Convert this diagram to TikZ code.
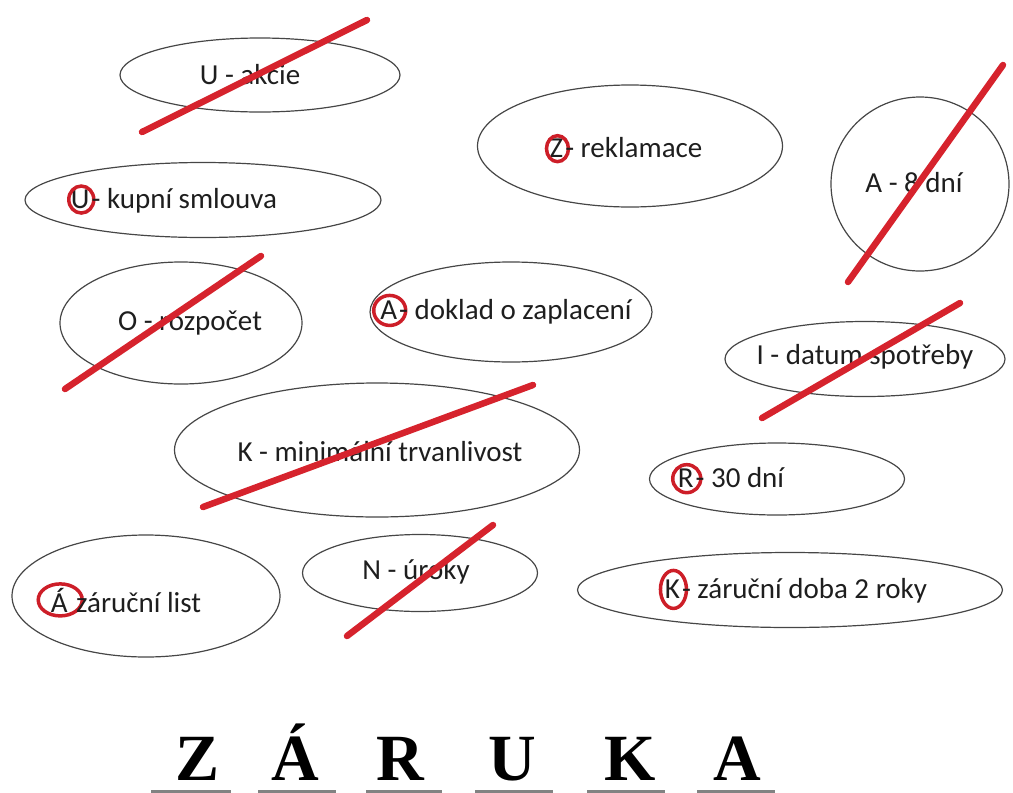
\documentclass[tikz,border=0pt]{standalone}
\usepackage{fontspec}
\setmainfont{Carlito}
\newfontfamily\tnr{Liberation Serif}
\usetikzlibrary{shapes.geometric}

\definecolor{barred}{RGB}{214,35,45}
\definecolor{ringred}{RGB}{205,30,40}
\definecolor{ovalline}{RGB}{70,70,70}
\definecolor{ink}{RGB}{30,30,30}
\definecolor{blankline}{RGB}{130,130,130}

% letter with a hand-drawn red ring around it (ring does not take up width)
\newcommand\ringed[3]{\tikz[baseline=(r.base)]{%
  \node[inner sep=0pt,outer sep=0pt,draw=none,shape=rectangle,text=ink](r){#3};
  \draw[overlay,ringred,line width=3.5pt] ([xshift=1pt]r.center) ellipse [x radius=#1pt, y radius=#2pt];}\kern2pt\relax}

\tikzset{
  oval/.style={ellipse, draw=ovalline, line width=1.2pt, inner sep=0pt},
  lbl/.style={text=ink, font=\fontsize{29}{33}\selectfont, inner sep=0pt},
  redbar/.style={barred, line width=6.5pt, line cap=round},
  bigletter/.style={text=black, font=\tnr\bfseries\fontsize{66}{70}\selectfont, inner sep=0pt, anchor=base},
  blank/.style={blankline, line width=4pt}
}

\begin{document}
\begin{tikzpicture}[x=1pt,y=-1pt]
\useasboundingbox (0,0) rectangle (1013,793);

% ovals
\node[oval, minimum width=280, minimum height=74]  (akcie)     at (260,75)  {};
\node[oval, minimum width=305, minimum height=122] (reklamace) at (630,146) {};
\node[oval, minimum width=178, minimum height=174] (osm)       at (920,184) {};
\node[oval, minimum width=356, minimum height=75]  (kupni)     at (203,200) {};
\node[oval, minimum width=242, minimum height=122] (rozpocet)  at (181,323) {};
\node[oval, minimum width=282, minimum height=100] (doklad)    at (511,312) {};
\node[oval, minimum width=280, minimum height=75]  (datum)     at (865,359) {};
\node[oval, minimum width=405, minimum height=134] (minimalni) at (377,450) {};
\node[oval, minimum width=255, minimum height=72]  (tricet)    at (777,479) {};
\node[oval, minimum width=268, minimum height=122] (list)      at (146,596) {};
\node[oval, minimum width=235, minimum height=77]  (uroky)     at (420,573) {};
\node[oval, minimum width=425, minimum height=75]  (doba)      at (790,590) {};

% labels
\node[lbl] (t-akcie)     at (250,75)  {U - akcie};
\node[lbl] (t-reklamace) at (626,148) {\ringed{11}{13}{Z}- reklamace};
\node[lbl] (t-osm)       at (914,183) {A - 8 dní};
\node[lbl] (t-kupni)     at (174,201) {\ringed{12.5}{13.5}{U}- kupní smlouva};
\node[lbl] (t-rozpocet)  at (190,323) {O - rozpočet};
\node[lbl] (t-doklad)    at (506,312) {\ringed{16}{15}{A}- doklad o zaplacení};
\node[lbl] (t-datum)     at (865,357) {I - datum spotřeby};
\node[lbl] (t-minimalni) at (380,452) {K - minimální trvanlivost};
\node[lbl] (t-tricet)    at (731,478) {\ringed{14}{14}{R}- 30 dní};
\node[lbl] (t-list)      at (126,600) {\ringed{22}{16}{Á} záruční list};
\node[lbl] (t-uroky)     at (416,572) {N - úroky};
\node[lbl] (t-doba)      at (796,591) {\ringed{13}{19}{K}- záruční doba 2 roky};

% crossing-out strokes
\coordinate (b1s) at (142,132); \coordinate (b1e) at (367,20);
\coordinate (b2s) at (848,282); \coordinate (b2e) at (1003,65);
\coordinate (b3s) at (65,389);  \coordinate (b3e) at (261,256);
\coordinate (b4s) at (762,418); \coordinate (b4e) at (960,303);
\coordinate (b5s) at (203,507); \coordinate (b5e) at (533,385);
\coordinate (b6s) at (347,636); \coordinate (b6e) at (493,525);
\draw[redbar] (b1s) -- (b1e);
\draw[redbar] (b2s) -- (b2e);
\draw[redbar] (b3s) -- (b3e);
\draw[redbar] (b4s) -- (b4e);
\draw[redbar] (b5s) -- (b5e);
\draw[redbar] (b6s) -- (b6e);

% solution word
\node[bigletter] (w1) at (198,780) {Z};
\node[bigletter] (w2) at (295,780) {Á};
\node[bigletter] (w3) at (400,780) {R};
\node[bigletter] (w4) at (512,780) {U};
\node[bigletter] (w5) at (630,780) {K};
\node[bigletter] (w6) at (737,780) {A};

% answer blanks
\foreach \a/\b in {151/231, 258/336, 366/442, 475/553, 587/665, 697/775}
  \draw[blank] (\a,792) -- (\b,792);
\end{tikzpicture}
\end{document}
